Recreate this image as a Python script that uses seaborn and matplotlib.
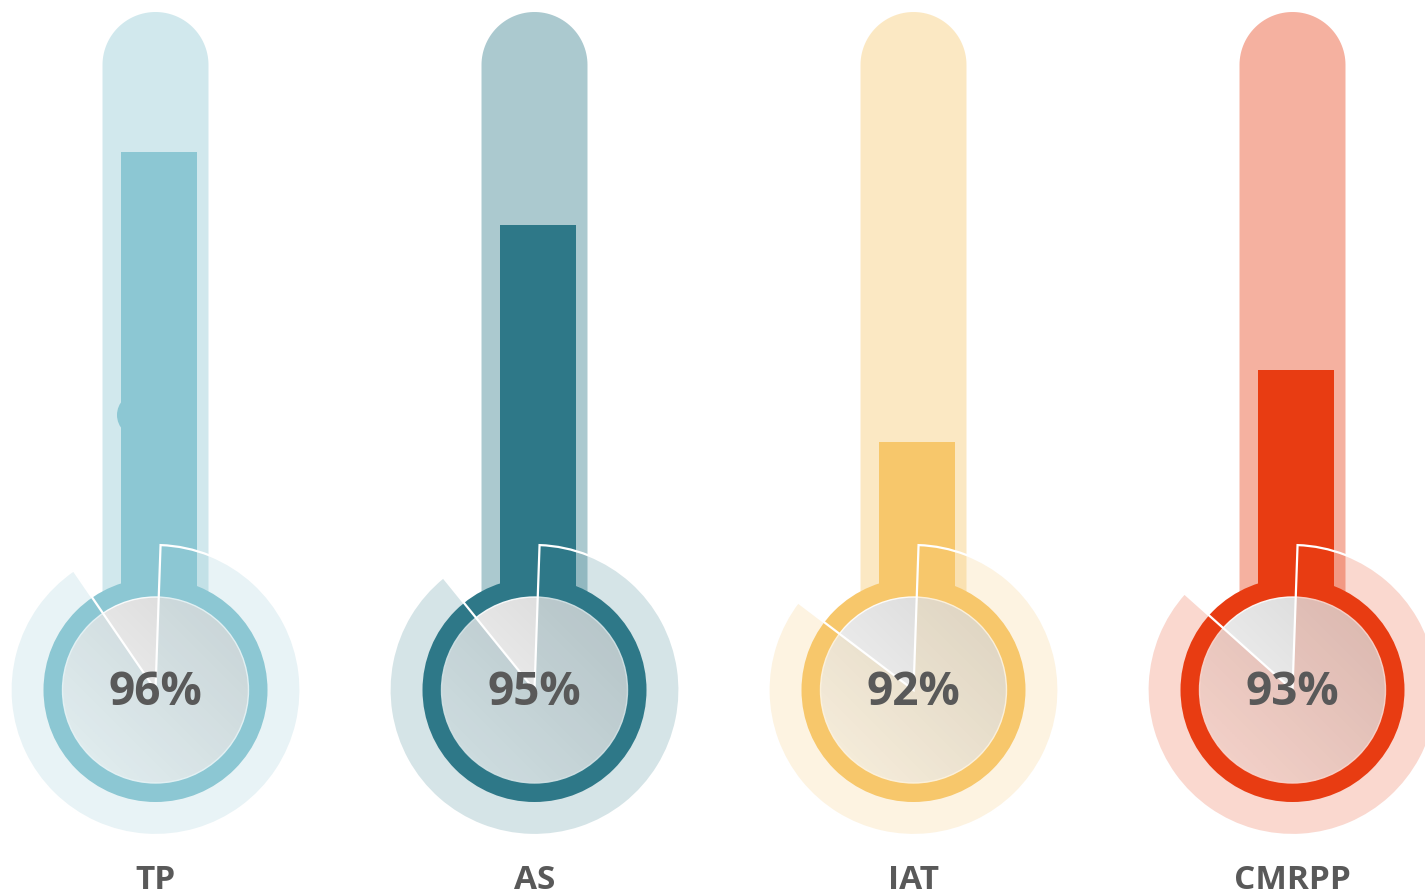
import numpy as np
import pandas as pd
import seaborn as sns
import matplotlib.pyplot as plt
from matplotlib.patches import Circle, Wedge, Polygon
from matplotlib.colors import to_rgb

sns.set_theme(style="white")
plt.rcParams['font.family'] = ['Open Sans', 'DejaVu Sans']

# data
labels = ["TP", "AS", "IAT", "CMRPP"]
values = [96, 95, 92, 93]
colors = ["#8CC7D3", "#2E7888", "#F7C76B", "#E83C12"]

# layout (pixels, y up)
W, H = 1425, 896
step = 379
centers = [155.5 + step * i for i in range(len(labels))]
bulb_y = H - 690
ring_r, disk_r, halo_r = 112, 93, 145
tube_half, tube_top, tube_bot = 53, H - 12, H - 630
text_col = "#595959"

# bar scale: 96% sits at pixel row 152, 72.5 px per percent
px_per_pct = 72.5
def pct_at_row(py):
    return 96 - (py - 152) / px_per_pct

# gauge gap (degrees) read as a scale of the value
def gap_end(v):
    return 106 + (100 - v) * 4.6
gap_start = 88

fig = plt.figure(figsize=(W / 100, H / 100), dpi=100)
fig.patch.set_facecolor("white")

ax_bg = fig.add_axes([0, 0, 1, 1], zorder=0)
bar_rows = 600
ax_bar = fig.add_axes([0, (H - bar_rows) / H, 1, bar_rows / H], zorder=1)
ax_fg = fig.add_axes([0, 0, 1, 1], zorder=2)
for a in (ax_bg, ax_fg):
    a.set_xlim(0, W)
    a.set_ylim(0, H)
    a.axis("off")
    a.patch.set_alpha(0)

# tubes
for cx, col in zip(centers, colors):
    cy = tube_top - tube_half
    th = np.linspace(np.pi, 0, 60)
    pts = [(cx - tube_half, tube_bot)]
    pts += list(zip(cx + tube_half * np.cos(th), cy + tube_half * np.sin(th)))
    pts += [(cx + tube_half, tube_bot)]
    ax_bg.add_patch(Polygon(pts, closed=True, facecolor=(*to_rgb(col), 0.4),
                            edgecolor="none", zorder=1))
# small leftover marker on the first tube
ax_bg.add_patch(Circle((139, H - 415), 22, facecolor=colors[0], edgecolor="none", zorder=2))

# mercury bars
df = pd.DataFrame({"pos": [c + 3.5 for c in centers], "value": values, "label": labels})
sns.barplot(data=df, x="pos", y="value", hue="label", palette=dict(zip(labels, colors)),
            dodge=False, native_scale=True, width=0.2, saturation=1, errorbar=None,
            legend=False, edgecolor="none", linewidth=0, ax=ax_bar)
ax_bar.set_xlim(0, W)
ax_bar.set_ylim(pct_at_row(bar_rows), pct_at_row(0))
ax_bar.axis("off")
ax_bar.patch.set_alpha(0)

# bulbs
n = 300
g = np.linspace(-1, 1, n)
X, Y = np.meshgrid(g, g)
t = (X + Y + 2) / 4
shade = (250 - t * 36) / 255
img = np.dstack([shade, shade, shade])

for cx, col, v, lab in zip(centers, colors, values, labels):
    ax_fg.add_patch(Circle((cx, bulb_y), ring_r, facecolor=col, edgecolor="none", zorder=1))
    im = ax_fg.imshow(img, origin="lower", zorder=2,
                      extent=[cx - disk_r, cx + disk_r, bulb_y - disk_r, bulb_y + disk_r])
    clip = Circle((cx, bulb_y), disk_r, transform=ax_fg.transData)
    im.set_clip_path(clip)
    ax_fg.add_patch(Circle((cx, bulb_y), disk_r, fill=False, edgecolor="white",
                           lw=1.0, alpha=0.9, zorder=3))
    ax_fg.add_patch(Wedge((cx, bulb_y), halo_r, gap_end(v), gap_start + 360,
                          facecolor=(*to_rgb(col), 0.2), edgecolor="white", lw=1.6, zorder=4))
    ax_fg.text(cx, bulb_y - 2, f"{v}%", ha="center", va="center", fontsize=33,
               fontweight="bold", color=text_col, zorder=5)
    ax_fg.text(cx, H - 880, lab, ha="center", va="center", fontsize=24,
               fontweight="bold", color=text_col, zorder=5)

ax_fg.set_xlim(0, W)
ax_fg.set_ylim(0, H)
ax_fg.set_aspect("auto")

fig.savefig("out.png", dpi=100, facecolor="white")
